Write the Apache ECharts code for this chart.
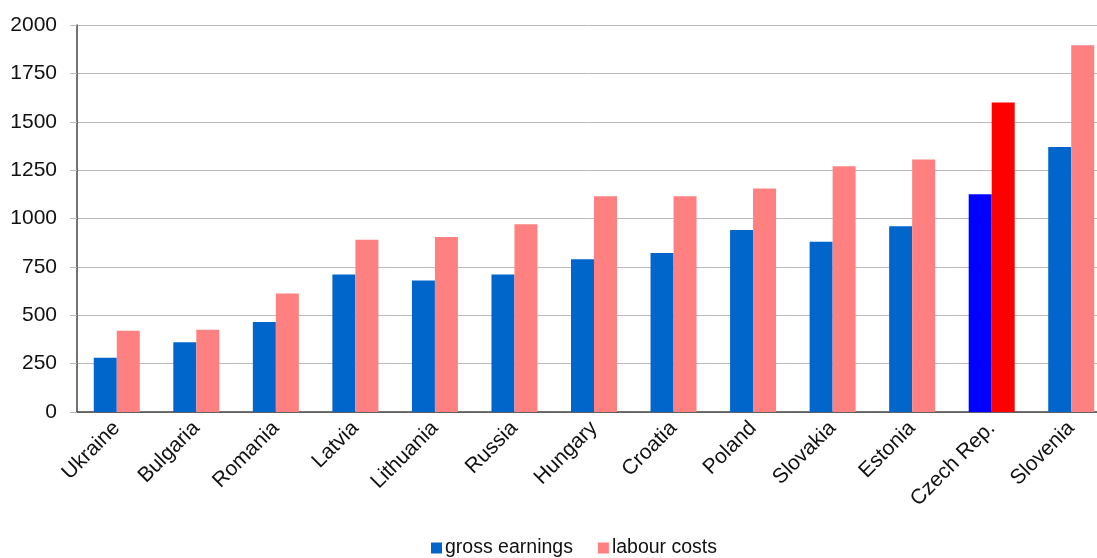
<!DOCTYPE html>
<html>
<head>
<meta charset="utf-8">
<script src="https://cdn.jsdelivr.net/npm/echarts@6/dist/echarts.min.js"></script>
<style>
  html, body { margin: 0; padding: 0; background: #fff; }
  #chart { width: 1097px; height: 558px; }
</style>
</head>
<body>
<div id="chart"></div>
<script>
  const countries = ['Ukraine', 'Bulgaria', 'Romania', 'Latvia', 'Lithuania', 'Russia', 'Hungary',
    'Croatia', 'Poland', 'Slovakia', 'Estonia', 'Czech Rep.', 'Slovenia']
  const grossEarnings = [280, 360, 465, 710, 680, 710, 790, 822, 940, 880, 960, 1125, 1370]
  const labourCosts = [420, 425, 612, 890, 905, 970, 1115, 1115, 1155, 1270, 1305, 1600, 1895]
  const yTicks = [0, 250, 500, 750, 1000, 1250, 1500, 1750, 2000]
  // Czech Rep. is highlighted
  const highlight = 'Czech Rep.'

  const font = 'Liberation Sans, Arial, sans-serif'

  const chart = echarts.init(document.getElementById('chart'))
  chart.setOption({
    animation: false,
    grid: {
      left: 77,
      top: 25,
      right: -14,
      bottom: 146,
      outerBoundsMode: 'none',
      containLabel: false
    },
    legend: {
      top: 538,
      left: 431,
      padding: 0,
      itemWidth: 11,
      itemHeight: 11,
      itemGap: 25,
      icon: 'rect',
      textStyle: { fontFamily: font, fontSize: 19.5, color: '#111', padding: [0, 0, 0, -2] },
      data: ['gross earnings', 'labour costs']
    },
    xAxis: {
      type: 'category',
      data: countries,
      axisLine: { lineStyle: { color: '#444', width: 1.5 } },
      axisTick: { show: false },
      axisLabel: {
        rotate: 45,
        interval: 0,
        margin: 13,
        fontFamily: font,
        fontSize: 21,
        color: '#111'
      }
    },
    yAxis: {
      type: 'value',
      min: yTicks[0],
      max: yTicks[yTicks.length - 1],
      interval: 250,
      axisLine: { show: true, lineStyle: { color: '#444', width: 1.5 } },
      axisTick: { show: true, length: 7, lineStyle: { color: '#bbb' } },
      splitLine: { lineStyle: { color: '#bbb', width: 1 } },
      axisLabel: {
        margin: 20,
        fontFamily: font,
        fontSize: 21,
        color: '#111',
        formatter: v => String(v)
      }
    },
    series: [
      {
        name: 'gross earnings',
        type: 'bar',
        barWidth: 23,
        barGap: '0%',
        itemStyle: { color: '#0066cc' },
        data: grossEarnings.map((v, i) => countries[i] === highlight
          ? { value: v, itemStyle: { color: '#0000ff' } } : v)
      },
      {
        name: 'labour costs',
        type: 'bar',
        barWidth: 23,
        barGap: '0%',
        itemStyle: { color: '#ff8080' },
        data: labourCosts.map((v, i) => countries[i] === highlight
          ? { value: v, itemStyle: { color: '#ff0000' } } : v)
      }
    ]
  })
</script>
</body>
</html>
